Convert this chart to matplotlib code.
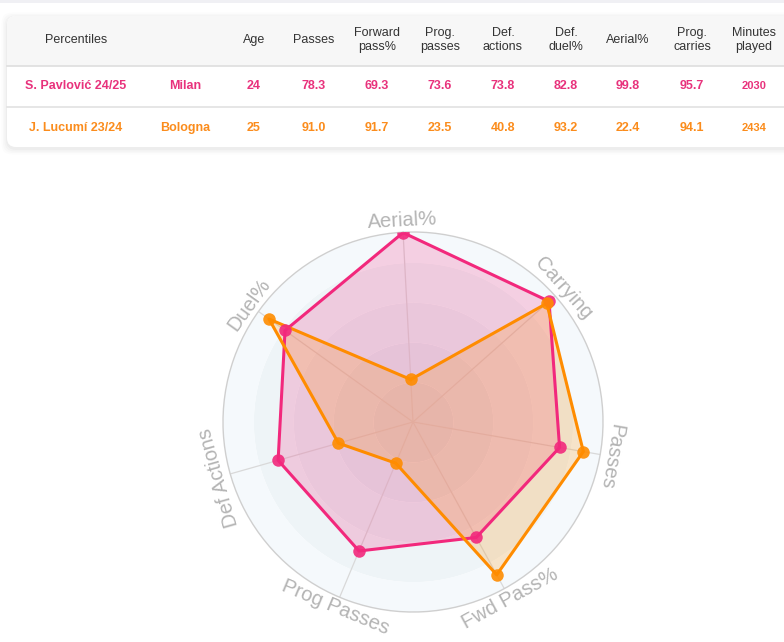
import numpy as np
import matplotlib
matplotlib.use("Agg")
import matplotlib.pyplot as plt
from matplotlib.patches import FancyBboxPatch, Rectangle

plt.rcParams["font.family"] = ["Liberation Sans", "DejaVu Sans"]

# ---- data ----
headers = ["Percentiles", "", "Age", "Passes", "Forward\npass%", "Prog.\npasses",
           "Def.\nactions", "Def.\nduel%", "Aerial%", "Prog.\ncarries", "Minutes\nplayed"]
row_pavlovic = ["S. Pavlović 24/25", "Milan", "24", "78.3", "69.3", "73.6",
                "73.8", "82.8", "99.8", "95.7", "2030"]
row_lucumi = ["J. Lucumí 23/24", "Bologna", "25", "91.0", "91.7", "23.5",
              "40.8", "93.2", "22.4", "94.1", "2434"]

categories = ["Aerial%", "Carrying", "Passes", "Fwd Pass%", "Prog Passes", "Def Actions", "Duel%"]
pavlovic = [99.8, 95.7, 78.3, 69.3, 73.6, 73.8, 82.8]
lucumi = [22.4, 94.1, 91.0, 91.7, 23.5, 40.8, 93.2]

PINK = "#f2287c"
ORANGE = "#ff8c00"
PINK_TXT = "#e8327c"
ORANGE_TXT = "#fb8c1c"

W, H = 784, 642
fig = plt.figure(figsize=(W / 100, H / 100), dpi=100)
fig.patch.set_facecolor("white")

# ---- table (pixel coords) ----
bg = fig.add_axes([0, 0, 1, 1])
bg.set_xlim(0, W)
bg.set_ylim(H, 0)
bg.axis("off")

bg.add_patch(Rectangle((0, 0), W, 3, color="#f0f0f4", lw=0))
for i, a in enumerate([0.025, 0.02, 0.015, 0.01]):
    g = 1 + i * 1.5
    bg.add_patch(FancyBboxPatch((7 - g, 16 - g + 2), 800 + 2 * g, 131 + 2 * g,
                                boxstyle="round,pad=0,rounding_size=10",
                                fc="black", ec="none", alpha=a))
card = FancyBboxPatch((7, 16), 800, 131, boxstyle="round,pad=0,rounding_size=9",
                      fc="white", ec="none")
bg.add_patch(card)
hdr = Rectangle((7, 16), 800, 50, fc="#f7f7f7", ec="none")
bg.add_patch(hdr)
hdr.set_clip_path(card)
bg.plot([7, W], [66, 66], color="#dedede", lw=1.2)
bg.plot([7, W], [107, 107], color="#e2e2e2", lw=1.2)

col_x = [76, 185, 254, 314, 377, 440, 503, 566, 628, 692, 754]
for x, h in zip(col_x, headers):
    bg.text(x, 40, h, ha="center", va="center", fontsize=9, color="#333333",
            linespacing=1.15)
for y, row, c in [(86, row_pavlovic, PINK_TXT), (128, row_lucumi, ORANGE_TXT)]:
    for j, (x, v) in enumerate(zip(col_x, row)):
        bg.text(x, y, v, ha="center", va="center", fontsize=8 if j == 10 else 9,
                color=c, fontweight="bold")

# ---- radar ----
cx, cy, R = 413, 422, 190
ax = fig.add_axes([(cx - R) / W, (H - cy - R) / H, 2 * R / W, 2 * R / H], polar=True)
ax.set_theta_offset(np.deg2rad(93))
ax.set_theta_direction(-1)
ax.set_ylim(0, 100)
ax.set_xticks([])
ax.set_yticks([])
ax.grid(False)
ax.set_facecolor("none")
ax.spines["polar"].set_color("#cfcfcf")
ax.spines["polar"].set_linewidth(1)

full = np.linspace(0, 2 * np.pi, 361)
bands = [(0, 21, "#dfe6ec"), (21, 42, "#e4eaf0"), (42, 63, "#e9eff3"),
         (63, 84, "#eef4f7"), (84, 100, "#f5f9fc")]
for r0, r1, col in bands:
    ax.fill_between(full, r0, r1, color=col, lw=0, zorder=0)

n = len(categories)
theta = np.arange(n) * 2 * np.pi / n
for t in theta:
    ax.plot([t, t], [0, 100], color="#d9d9d9", lw=0.9, zorder=1)

tc = np.append(theta, theta[0])
for vals, col in [(pavlovic, PINK), (lucumi, ORANGE)]:
    v = np.append(vals, vals[0])
    ax.fill(tc, v, color=col, alpha=0.2, lw=0, zorder=2)
    ax.plot(tc, v, color=col, lw=2.2, zorder=3)
    ax.plot(theta, vals, "o", color=col, ms=9, alpha=0.9, mec="none", zorder=4)

for t, lab in zip(theta, categories):
    ang = 93 - np.rad2deg(t)
    rot = (ang - 90 + 180) % 360 - 180
    if abs(rot) > 120:
        rot = rot - 180 if rot > 0 else rot + 180
    ax.text(t, 106, lab, rotation=rot, rotation_mode="anchor", ha="center",
            va="center", fontsize=14.5, color="#b4b4b4", clip_on=False)

fig.savefig("out.png", dpi=100)
